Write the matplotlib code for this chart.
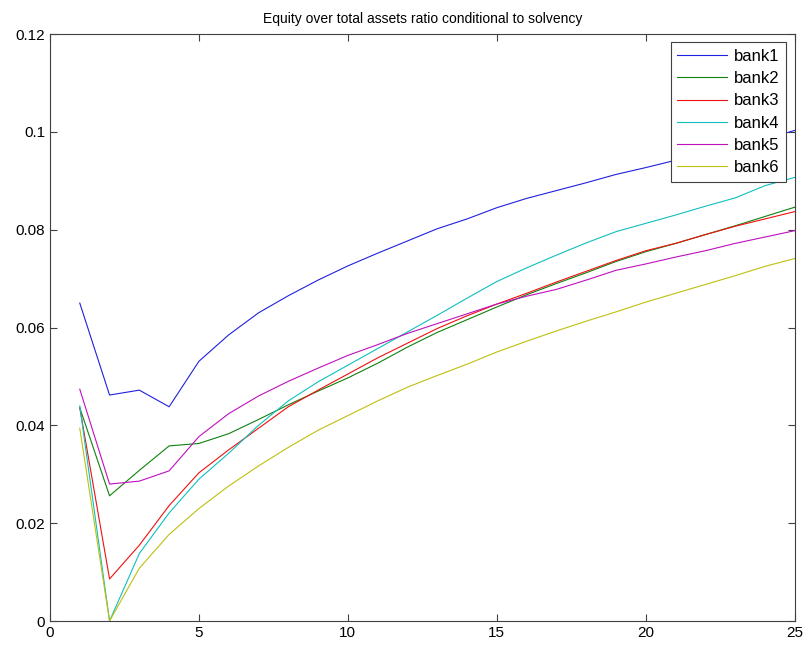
import matplotlib
matplotlib.use('Agg')
import matplotlib.pyplot as plt
from matplotlib.ticker import FuncFormatter

# Равномерная сетка периодов
periods = list(range(1, 26))

bank1 = [0.0650, 0.0462, 0.0472, 0.0438, 0.0531, 0.0585, 0.0630, 0.0665, 0.0697, 0.0726,
         0.0752, 0.0777, 0.0802, 0.0822, 0.0845, 0.0864, 0.0880, 0.0896, 0.0913, 0.0927,
         0.0942, 0.0955, 0.0970, 0.0985, 0.1003]
bank2 = [0.0436, 0.0256, 0.0308, 0.0358, 0.0363, 0.0383, 0.0412, 0.0442, 0.0470, 0.0497,
         0.0527, 0.0560, 0.0590, 0.0616, 0.0642, 0.0667, 0.0690, 0.0712, 0.0735, 0.0755,
         0.0772, 0.0790, 0.0808, 0.0827, 0.0846]
bank3 = [0.0436, 0.0086, 0.0155, 0.0236, 0.0303, 0.0350, 0.0394, 0.0438, 0.0472, 0.0505,
         0.0538, 0.0568, 0.0598, 0.0624, 0.0648, 0.0670, 0.0693, 0.0715, 0.0737, 0.0757,
         0.0772, 0.0790, 0.0807, 0.0822, 0.0837]
bank4 = [0.0440, 0.0000, 0.0138, 0.0221, 0.0290, 0.0343, 0.0400, 0.0450, 0.0489, 0.0523,
         0.0557, 0.0591, 0.0625, 0.0660, 0.0694, 0.0722, 0.0748, 0.0773, 0.0796, 0.0813,
         0.0830, 0.0848, 0.0865, 0.0890, 0.0907]
bank5 = [0.0474, 0.0280, 0.0286, 0.0307, 0.0377, 0.0424, 0.0460, 0.0490, 0.0517, 0.0543,
         0.0565, 0.0588, 0.0608, 0.0628, 0.0648, 0.0664, 0.0678, 0.0697, 0.0717, 0.0730,
         0.0744, 0.0757, 0.0772, 0.0785, 0.0798]
bank6 = [0.0394, 0.0000, 0.0108, 0.0177, 0.0230, 0.0276, 0.0317, 0.0355, 0.0390, 0.0420,
         0.0450, 0.0478, 0.0502, 0.0525, 0.0550, 0.0572, 0.0593, 0.0613, 0.0632, 0.0652,
         0.0670, 0.0688, 0.0706, 0.0725, 0.0741]

series = [bank1, bank2, bank3, bank4, bank5, bank6]
names = ['bank1', 'bank2', 'bank3', 'bank4', 'bank5', 'bank6']
# Цвета как в старой палитре MATLAB
colors = ['#2020e0', '#108010', '#f01010', '#10bfbf', '#bf10bf', '#bfbf10']

plt.rcParams['font.family'] = ['Liberation Sans', 'DejaVu Sans']

fig = plt.figure(figsize=(8.06, 6.5), dpi=100)
ax = fig.add_axes([0.062, 0.0446, 0.924, 0.903])

for vals, name, c in zip(series, names, colors):
    ax.plot(periods, vals, color=c, linewidth=0.8, label=name)

ax.set_xlim(0, 25)
ax.set_ylim(0, 0.12)
ax.set_xticks([0, 5, 10, 15, 20, 25])
ax.set_yticks([0, 0.02, 0.04, 0.06, 0.08, 0.1, 0.12])
ax.yaxis.set_major_formatter(FuncFormatter(lambda v, p: '%g' % round(v, 4)))
ax.tick_params(direction='in', top=True, right=True, labelsize=11, length=5,
               color='#404040', width=0.8)
for s in ax.spines.values():
    s.set_color('#404040')
    s.set_linewidth(0.8)

ax.set_title('Equity over total assets ratio conditional to solvency', fontsize=10, pad=8)

leg = ax.legend(loc='upper right', fontsize=12, fancybox=False, framealpha=1,
                edgecolor='#404040', handlelength=3.0, handletextpad=0.4,
                borderaxespad=0.5, labelspacing=0.43, borderpad=0.4)
leg.get_frame().set_linewidth(0.8)

fig.savefig('out.png', dpi=100)
